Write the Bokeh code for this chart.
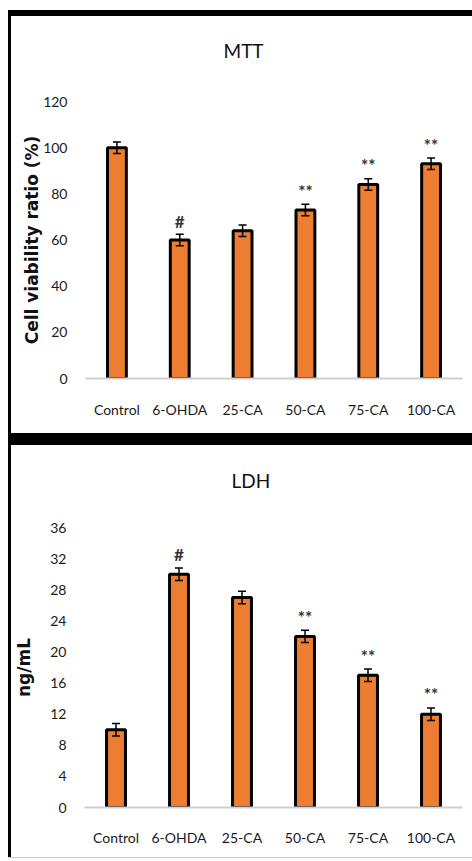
from bokeh.plotting import figure
from bokeh.models import FactorRange, Range1d, FixedTicker, Spacer
from bokeh.layouts import column, row
from bokeh.core.properties import value
from bokeh.embed import file_html
from bokeh.resources import INLINE

categories = ["Control", "6-OHDA", "25-CA", "50-CA", "75-CA", "100-CA"]

mtt_values = [100, 60, 64, 73, 84, 93]
mtt_errors = [2.5, 2.5, 2.5, 2.5, 2.5, 2.5]
mtt_marks = ["", "#", "", "**", "**", "**"]
mtt_ticks = [0, 20, 40, 60, 80, 100, 120]

ldh_values = [10, 30, 27, 22, 17, 12]
ldh_errors = [0.8, 0.8, 0.8, 0.8, 0.8, 0.8]
ldh_marks = ["", "#", "", "**", "**", "**"]
ldh_ticks = [0, 4, 8, 12, 16, 20, 24, 28, 32, 36]

FONT = "Lato"
BAR = "#ED7D31"
LEFT_PAD = 8
LEFT_LINE = 3
PANEL_W = 472 - LEFT_PAD - LEFT_LINE
TOP_H = 417
BOT_H = 412


def band(w, h, color):
    return Spacer(width=w, height=h, styles={"background-color": color})


def panel(title, vals, errs, marks, ticks, ylabel, h, mb_left, mb_top, mb_bottom,
          title_offset, title_standoff, ylabel_standoff, xlabel_standoff):
    p = figure(x_range=FactorRange(factors=categories, range_padding=0),
               y_range=Range1d(ticks[0], ticks[-1]),
               width=PANEL_W, height=h, output_backend="svg", toolbar_location=None,
               min_border_left=mb_left, min_border_right=10,
               min_border_top=mb_top, min_border_bottom=mb_bottom)
    # trailing blank line lifts the title text well above the plot frame
    p.title.text = title + "\n "
    p.title.align = "left"
    p.title.offset = title_offset
    p.title.standoff = title_standoff
    p.title.text_font = FONT
    p.title.text_font_size = "19px"
    p.title.text_font_style = "normal"
    p.title.text_color = "#111111"
    p.outline_line_color = None
    p.xgrid.grid_line_color = None
    p.ygrid.grid_line_color = None

    lower = [v - e for v, e in zip(vals, errs)]
    upper = [v + e for v, e in zip(vals, errs)]

    p.vbar(x=categories, top=vals, bottom=0, width=0.3, fill_color=BAR,
           line_color="black", line_width=3)
    p.segment(x0=categories, y0=lower, x1=categories, y1=upper,
              line_color="black", line_width=1.5)
    p.scatter(x=categories, y=upper, marker="dash", size=8, line_color="black", line_width=1.5)
    p.scatter(x=categories, y=lower, marker="dash", size=8, line_color="black", line_width=1.5)
    p.text(x=categories, y=upper, text=marks, text_align="center",
           text_baseline="alphabetic", y_offset=-13,
           text_font=value(FONT), text_font_size="17px", text_font_style="bold",
           text_color="#333333")

    p.yaxis.ticker = FixedTicker(ticks=ticks)
    p.yaxis.axis_line_color = None
    p.yaxis.major_tick_line_color = None
    p.yaxis.minor_tick_line_color = None
    p.yaxis.major_label_standoff = 12
    p.yaxis.major_label_text_font = FONT
    p.yaxis.major_label_text_font_size = "14px"
    p.yaxis.major_label_text_color = "#1a1a1a"
    p.yaxis.axis_label = ylabel
    p.yaxis.axis_label_text_font = "DejaVu Sans"
    p.yaxis.axis_label_text_font_style = "bold"
    p.yaxis.axis_label_text_font_size = "17px"
    p.yaxis.axis_label_text_color = "#111111"
    p.yaxis.axis_label_standoff = ylabel_standoff

    p.xaxis.axis_line_color = "#d0d0d0"
    p.xaxis.axis_line_width = 2
    p.xaxis.major_tick_line_color = None
    p.xaxis.minor_tick_line_color = None
    p.xaxis.major_label_standoff = xlabel_standoff
    p.xaxis.major_label_text_font = FONT
    p.xaxis.major_label_text_font_size = "14px"
    p.xaxis.major_label_text_color = "#1a1a1a"
    return p


top = panel("MTT", mtt_values, mtt_errors, mtt_marks, mtt_ticks, "Cell viability ratio (%)",
            TOP_H, 74, 85, 55, 138, 33, -2, 16)
bottom = panel("LDH", ldh_values, ldh_errors, ldh_marks, ldh_ticks, "ng/mL",
               BOT_H, 67, 82, 50, 147, 26, 13, 15)

layout = row(
    band(LEFT_PAD, 861, "white"),
    column(
        band(LEFT_LINE + PANEL_W, 10, "white"),
        band(LEFT_LINE + PANEL_W, 6, "black"),
        row(band(LEFT_LINE, TOP_H, "black"), top),
        band(LEFT_LINE + PANEL_W, 12, "black"),
        row(band(LEFT_LINE, BOT_H, "black"), bottom),
        band(LEFT_LINE + PANEL_W, 1, "#cccccc"),
        band(LEFT_LINE + PANEL_W, 3, "white"),
    ),
)
open("out.html", "w").write(file_html(layout, INLINE))
